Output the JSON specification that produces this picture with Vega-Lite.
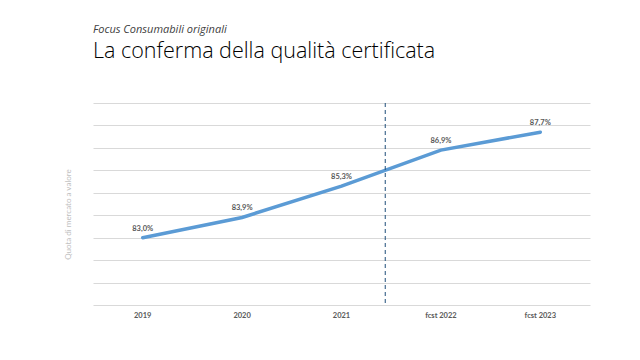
{
  "$schema": "https://vega.github.io/schema/vega-lite/v6.json",
  "autosize": {"type": "none"},
  "width": 497,
  "height": 202,
  "padding": {"left": 93, "top": 103, "right": 50, "bottom": 55},
  "background": "white",
  "config": {"view": {"stroke": null}},
  "title": {
    "text": "Focus Consumabili originali",
    "subtitle": "La conferma della qualità certificata",
    "anchor": "start",
    "frame": "group",
    "offset": 40,
    "font": "Open Sans",
    "fontStyle": "italic",
    "fontWeight": "normal",
    "fontSize": 11,
    "color": "#404040",
    "subtitleFont": "Open Sans",
    "subtitleFontWeight": 300,
    "subtitleFontSize": 21.5,
    "subtitleColor": "#000000",
    "subtitlePadding": 6
  },
  "data": {
    "values": [
      {"year": "2019", "value": 83.0, "label": "83,0%"},
      {"year": "2020", "value": 83.9, "label": "83,9%"},
      {"year": "2021", "value": 85.3, "label": "85,3%"},
      {"year": "fcst 2022", "value": 86.9, "label": "86,9%"},
      {"year": "fcst 2023", "value": 87.7, "label": "87,7%"}
    ]
  },
  "encoding": {
    "x": {
      "field": "year",
      "type": "ordinal",
      "sort": null,
      "scale": {"type": "band", "paddingInner": 0, "paddingOuter": 0},
      "axis": {
        "title": null,
        "domain": false,
        "ticks": false,
        "grid": false,
        "labelAngle": 0,
        "labelFont": "Lato",
        "labelFontWeight": "bold",
        "labelFontSize": 7.5,
        "labelColor": "#595959",
        "labelPadding": 6
      }
    }
  },
  "layer": [
    {
      "encoding": {
        "y": {
          "field": "value",
          "type": "quantitative",
          "scale": {"domain": [80, 89], "nice": false, "zero": false},
          "axis": {
            "values": [80, 81, 82, 83, 84, 85, 86, 87, 88, 89],
            "labels": false,
            "ticks": false,
            "domain": false,
            "grid": true,
            "gridColor": "#D9D9D9",
            "gridWidth": 1,
            "title": "Quota di mercato a valore",
            "titleFont": "Lato",
            "titleFontSize": 8,
            "titleFontWeight": "normal",
            "titleColor": "#BFBFBF",
            "titleX": -21,
            "titleY": 111,
            "titleAlign": "center"
          }
        }
      },
      "layer": [
        {
          "mark": {"type": "line", "color": "#5B9BD5", "strokeWidth": 3.5, "strokeCap": "round"}
        },
        {
          "mark": {"type": "text", "dy": -9, "font": "Lato", "fontWeight": "bold", "fontSize": 7.5, "color": "#595959"},
          "encoding": {"text": {"field": "label"}}
        }
      ]
    },
    {
      "data": {"values": [{"year": "2021"}]},
      "mark": {"type": "rule", "color": "#1F4E79", "strokeWidth": 1, "strokeDash": [4, 3]},
      "encoding": {
        "x": {"field": "year", "type": "ordinal", "bandPosition": 0.94}
      }
    }
  ]
}
